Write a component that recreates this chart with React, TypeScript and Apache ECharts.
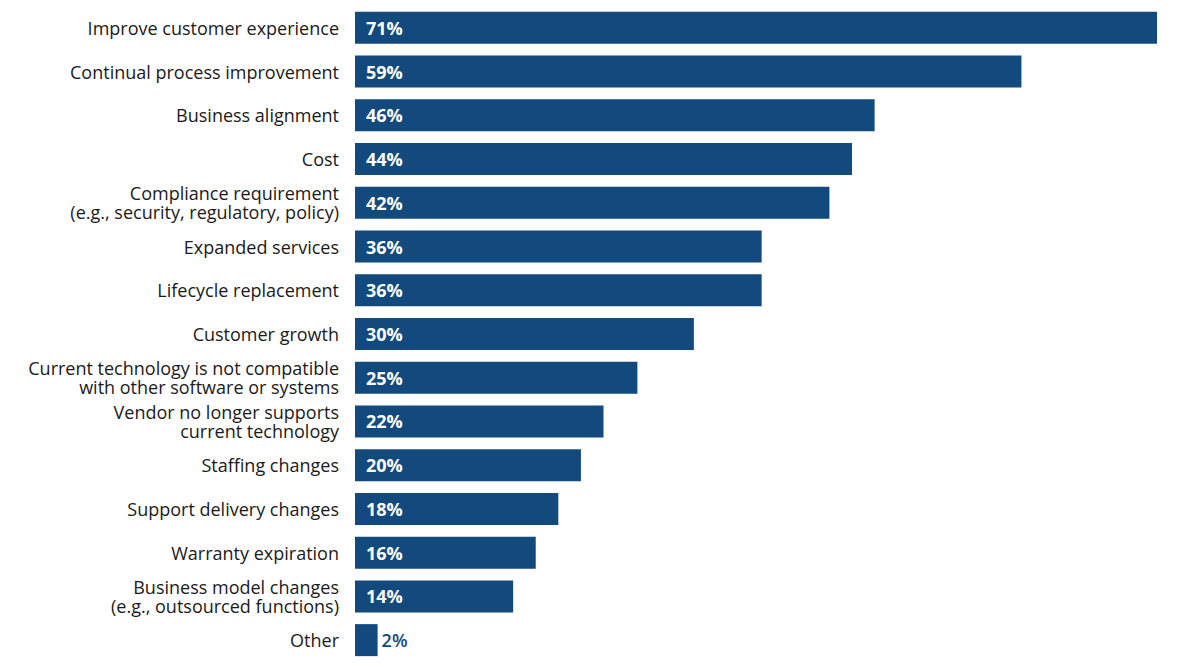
import React, { useEffect, useRef } from "react";
import * as echarts from "echarts";

const categories: string[] = [
  "Improve customer experience",
  "Continual process improvement",
  "Business alignment",
  "Cost",
  "Compliance requirement\n(e.g., security, regulatory, policy)",
  "Expanded services",
  "Lifecycle replacement",
  "Customer growth",
  "Current technology is not compatible\nwith other software or systems",
  "Vendor no longer supports\ncurrent technology",
  "Staffing changes",
  "Support delivery changes",
  "Warranty expiration",
  "Business model changes\n(e.g., outsourced functions)",
  "Other",
];

const values: number[] = [71, 59, 46, 44, 42, 36, 36, 30, 25, 22, 20, 18, 16, 14, 2];

const BAR_COLOR = "#124a7d";

export default function App() {
  const ref = useRef<HTMLDivElement>(null);
  useEffect(() => {
    document.body.style.margin = "0";
    if (!ref.current) return;
    const chart = echarts.init(ref.current, undefined, { renderer: "svg" });
    chart.setOption({
      animation: false,
      grid: { left: 355, right: 26, top: 6, bottom: 5, containLabel: false },
      xAxis: {
        type: "value",
        min: 0,
        max: 71,
        show: false,
      },
      yAxis: {
        type: "category",
        data: categories,
        inverse: true,
        axisLine: { show: false },
        axisTick: { show: false },
        axisLabel: {
          margin: 16,
          fontFamily: "Open Sans",
          fontSize: 18,
          color: "#1a1a1a",
          lineHeight: 19,
          align: "right",
        },
      },
      series: [
        {
          type: "bar",
          data: values.map((v) => ({
            value: v,
            label:
              v < 5
                ? {
                    show: true,
                    position: "right",
                    distance: 4,
                    color: BAR_COLOR,
                    fontWeight: 600,
                  }
                : undefined,
          })),
          barWidth: 32,
          itemStyle: { color: BAR_COLOR },
          label: {
            show: true,
            position: "insideLeft",
            distance: 11,
            formatter: "{c}%",
            color: "#ffffff",
            fontFamily: "Open Sans",
            fontWeight: "bold",
            fontSize: 18,
          },
        },
      ],
    });
    return () => chart.dispose();
  }, []);
  return <div ref={ref} style={{ width: 1183, height: 667 }} />;
}
